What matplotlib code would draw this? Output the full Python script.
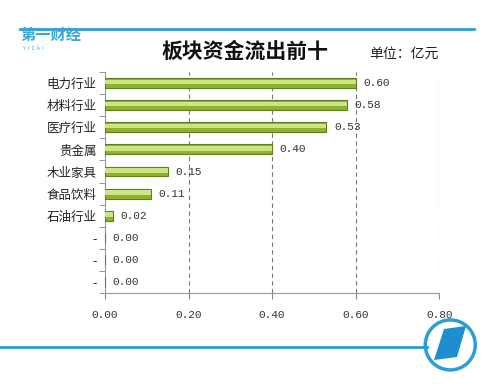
import matplotlib.pyplot as plt
from matplotlib.patches import Ellipse, Polygon
import numpy as np

plt.rcParams['font.family'] = ['Noto Sans CJK SC', 'DejaVu Sans']

# 数据
categories = ['电力行业', '材料行业', '医疗行业', '贵金属', '木业家具', '食品饮料', '石油行业', '-', '-', '-']
values = [0.60, 0.58, 0.53, 0.40, 0.15, 0.11, 0.02, 0.00, 0.00, 0.00]
xticks = [0.0, 0.2, 0.4, 0.6, 0.8]

fig = plt.figure(figsize=(5.02, 3.88), dpi=100)
ax = fig.add_axes([0.209, 0.245, 0.666, 0.569])

y = np.arange(len(categories))[::-1]
bh = 0.45
ax.barh(y, values, height=bh, color='#8fb32e', edgecolor='#5f7d1a', linewidth=0.8, zorder=3)
ax.barh(y + 0.05, values, height=bh * 0.45, color='#cde485', linewidth=0, zorder=4)

for yi, v in zip(y, values):
    ax.text(v + 0.018, yi, f'{v:.2f}', va='center', ha='left',
            fontsize=8, family='Liberation Mono', color='#333333', zorder=5)

ax.set_xlim(0, 0.8)
ax.set_ylim(-0.5, len(categories) - 0.5)
ax.set_xticks(xticks)
ax.set_xticklabels([f'{t:.2f}' for t in xticks], family='Liberation Mono', fontsize=8, color='#333333')
ax.set_yticks(y)
ax.set_yticklabels(categories, fontsize=9, color='#222222')
ax.tick_params(axis='y', length=0, pad=6)
ax.set_yticks(np.arange(len(categories) + 1) - 0.5, minor=True)
ax.tick_params(axis='y', which='minor', length=4, color='#888888')
ax.tick_params(axis='x', length=4, color='#888888', pad=8)

for t in xticks[1:]:
    ax.axvline(t, color='#777777', linestyle=(0, (4, 3)), linewidth=0.8, zorder=1)

for s in ['top', 'right']:
    ax.spines[s].set_visible(False)
ax.spines['left'].set_color('#999999')
ax.spines['bottom'].set_color('#999999')

# 标题
fig.text(0.488, 0.868, '板块资金流出前十', ha='center', va='center', fontsize=15, fontweight='bold', color='#111111')
fig.text(0.805, 0.862, '单位：亿元', ha='center', va='center', fontsize=10, color='#222222')

# 顶部线和标志
fig.add_artist(plt.Line2D([0.04, 0.945], [0.925, 0.925], color='#2b9fd4', linewidth=2))
fig.text(0.04, 0.91, '第一财经', ha='left', va='center', fontsize=11, fontweight='bold', color='#3aa7d8')
fig.text(0.045, 0.874, 'Y  I  C  A  I', ha='left', va='center', fontsize=3.5, color='#3aa7d8')

# 底部线和标志
fig.add_artist(plt.Line2D([0.0, 0.85], [0.106, 0.106], color='#2b9fd4', linewidth=2))
circ = Ellipse((0.897, 0.111), 50 / 502, 50 / 388, transform=fig.transFigure, facecolor='white',
               edgecolor='#2b9fd4', linewidth=2.5)
fig.add_artist(circ)
poly = Polygon([[434 / 502, 1 - 360 / 388], [444 / 502, 1 - 329 / 388],
                [466 / 502, 1 - 326 / 388], [457 / 502, 1 - 357 / 388]],
               closed=True, transform=fig.transFigure, facecolor='#1d8fd0', edgecolor='none')
fig.add_artist(poly)

fig.savefig('out.png', dpi=100)
